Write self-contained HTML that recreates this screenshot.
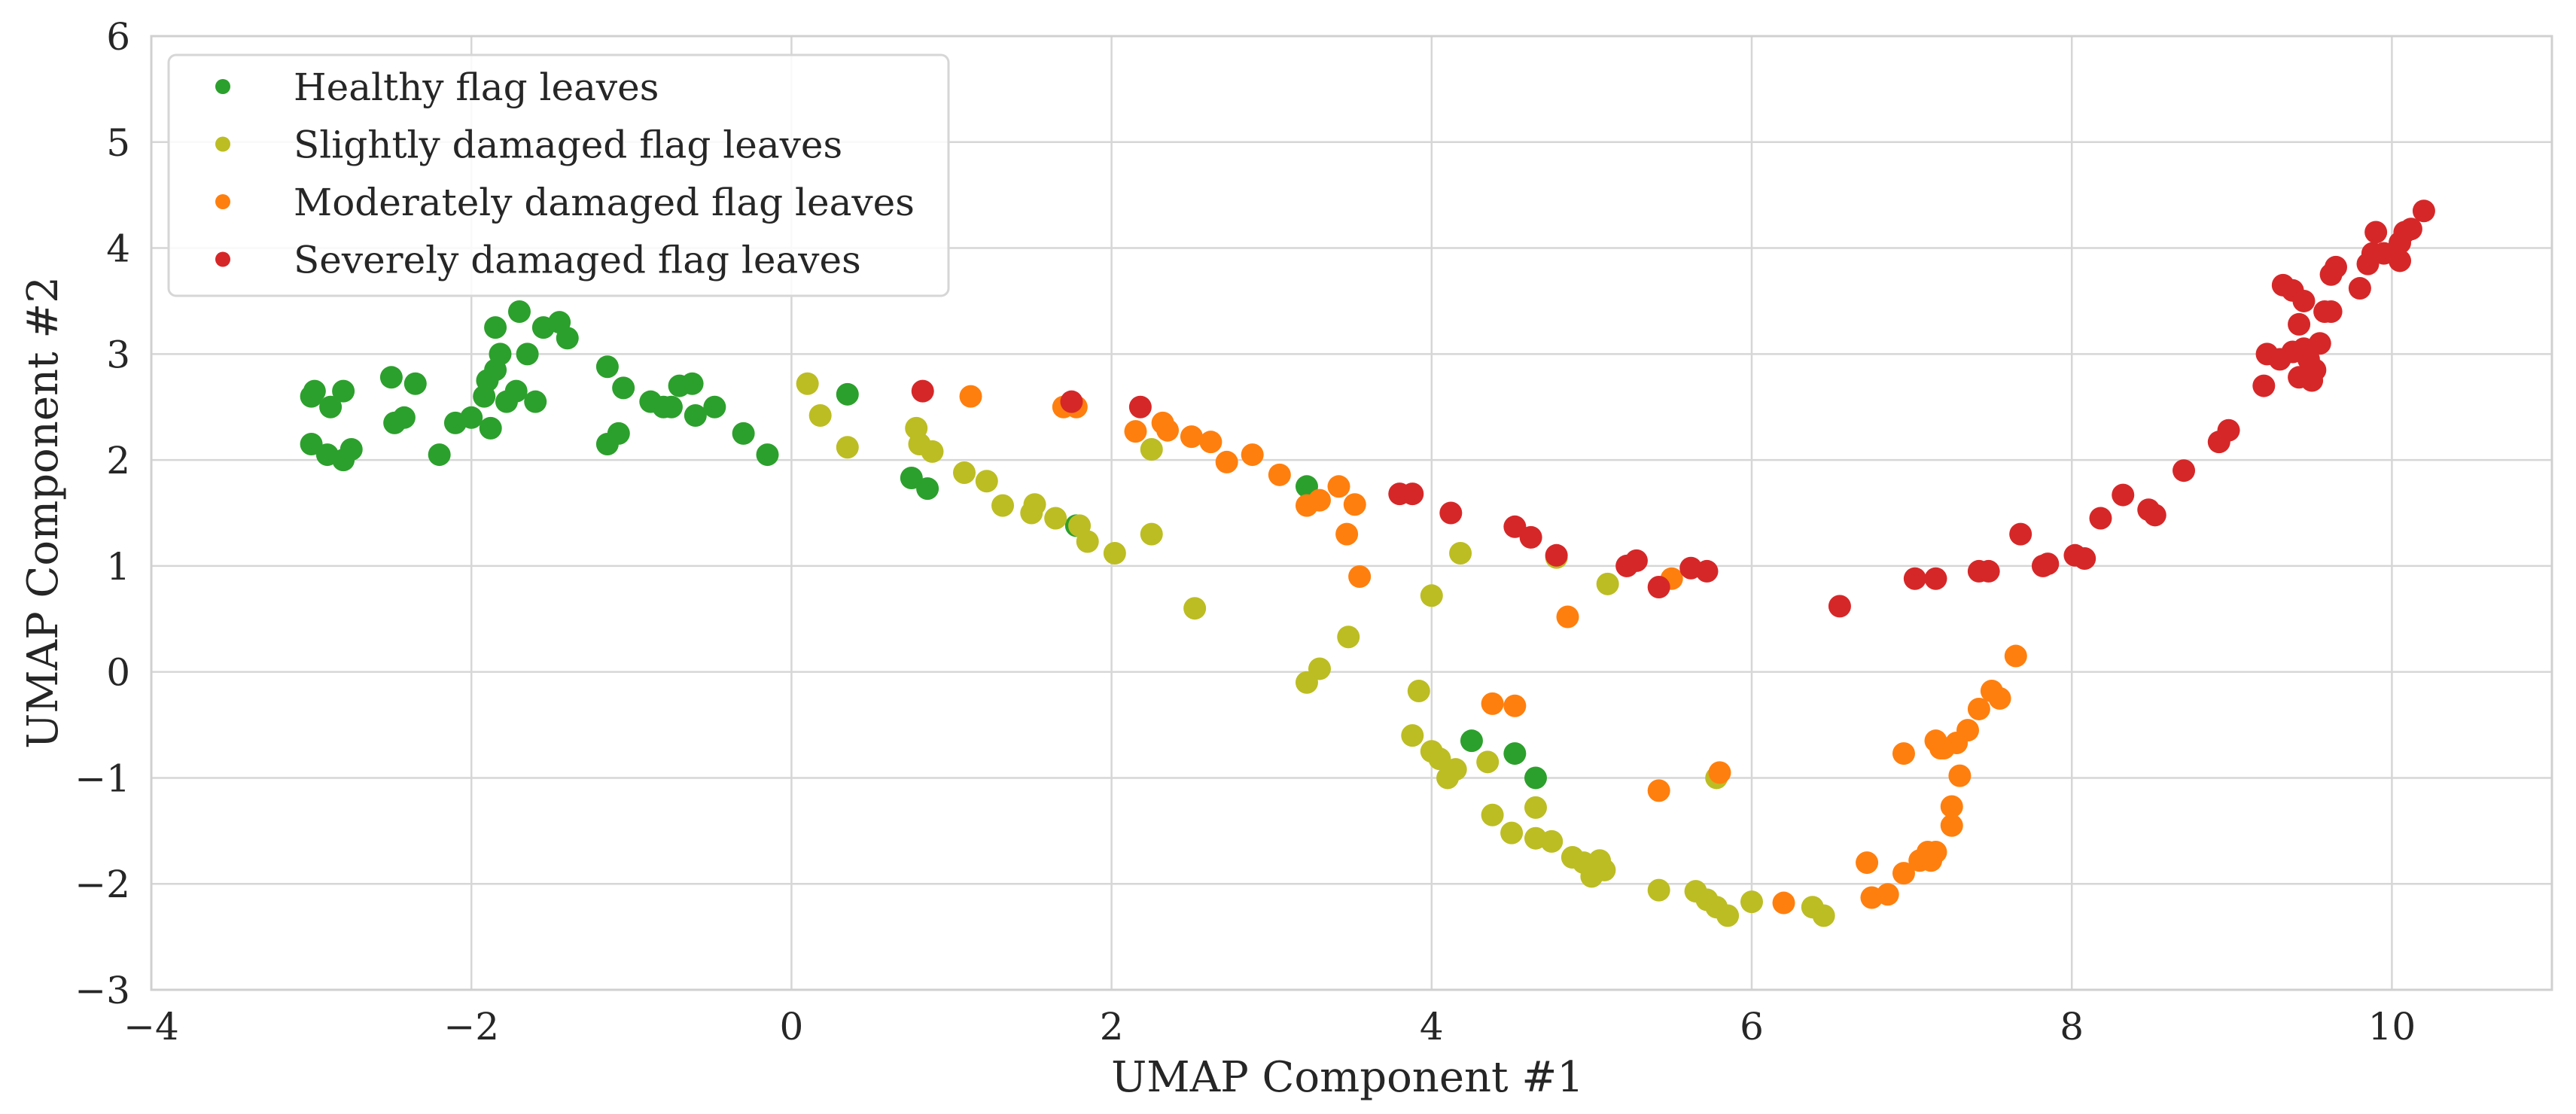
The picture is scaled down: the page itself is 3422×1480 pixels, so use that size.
<!DOCTYPE html>
<html><head><meta charset="utf-8"><style>
html,body{margin:0;padding:0;background:#fff;}
svg{display:block;font-family:"DejaVu Serif","Liberation Serif",serif;}
</style></head><body>
<svg id="chart" width="3422" height="1480" viewBox="0 0 3422 1480" xmlns="http://www.w3.org/2000/svg">
<rect width="3422" height="1480" fill="#fff"/>
<g id="grid"></g><g id="ticks"></g><g id="points"></g>
<text x="1790" y="1450" font-size="56" text-anchor="middle" fill="#262626">UMAP Component #1</text>
<text transform="translate(76,681) rotate(-90)" font-size="56" text-anchor="middle" fill="#262626">UMAP Component #2</text>
<g id="legend"></g>
</svg>
<script>
const xTicks=[-4,-2,0,2,4,6,8,10];
const yTicks=[-3,-2,-1,0,1,2,3,4,5,6];
const seriesNames=["Healthy flag leaves","Slightly damaged flag leaves","Moderately damaged flag leaves","Severely damaged flag leaves"];
const seriesColors=["#2ca02c","#bcbd22","#ff7f0e","#d62728"];
const healthyX=[-3.0,-3.0,-2.98,-2.9,-2.88,-2.8,-2.8,-2.75,-2.5,-2.48,-2.42,-2.35,-2.2,-2.1,-2.0,-1.92,-1.9,-1.88,-1.85,-1.85,-1.82,-1.78,-1.72,-1.7,-1.65,-1.6,-1.55,-1.45,-1.4,-1.15,-1.15,-1.08,-1.05,-0.88,-0.8,-0.75,-0.7,-0.62,-0.6,-0.48,-0.3,-0.15,0.35,0.75,0.85,1.78,3.22,4.25,4.52,4.65];
const healthyY=[2.15,2.6,2.65,2.05,2.5,2.65,2.0,2.1,2.78,2.35,2.4,2.72,2.05,2.35,2.4,2.6,2.75,2.3,2.85,3.25,3.0,2.55,2.65,3.4,3.0,2.55,3.25,3.3,3.15,2.88,2.15,2.25,2.68,2.55,2.5,2.5,2.7,2.72,2.42,2.5,2.25,2.05,2.62,1.83,1.73,1.38,1.75,-0.65,-0.77,-1.0];
const slightX=[0.1,0.18,0.35,0.78,0.8,0.88,1.08,1.22,1.32,1.5,1.52,1.65,1.8,1.85,2.02,2.25,2.25,2.52,3.22,3.3,3.48,3.88,3.92,4.0,4.0,4.05,4.1,4.15,4.18,4.35,4.38,4.5,4.65,4.65,4.75,4.78,4.88,4.95,5.0,5.05,5.08,5.1,5.42,5.65,5.72,5.78,5.78,5.85,6.0,6.38,6.45];
const slightY=[2.72,2.42,2.12,2.3,2.15,2.08,1.88,1.8,1.57,1.5,1.58,1.45,1.38,1.23,1.12,2.1,1.3,0.6,-0.1,0.03,0.33,-0.6,-0.18,0.72,-0.75,-0.82,-1.0,-0.92,1.12,-0.85,-1.35,-1.52,-1.28,-1.57,-1.6,1.08,-1.75,-1.8,-1.93,-1.78,-1.87,0.83,-2.06,-2.07,-2.15,-2.22,-1.0,-2.3,-2.17,-2.22,-2.3];
const moderateX=[1.12,1.7,1.78,2.15,2.32,2.35,2.5,2.62,2.72,2.88,3.05,3.22,3.3,3.42,3.47,3.52,3.55,4.38,4.52,4.85,5.42,5.5,5.8,6.2,6.72,6.75,6.85,6.95,6.95,7.05,7.1,7.12,7.15,7.15,7.18,7.2,7.25,7.25,7.28,7.3,7.35,7.42,7.5,7.55,7.65];
const moderateY=[2.6,2.5,2.5,2.27,2.35,2.28,2.22,2.17,1.98,2.05,1.86,1.57,1.62,1.75,1.3,1.58,0.9,-0.3,-0.32,0.52,-1.12,0.88,-0.95,-2.18,-1.8,-2.13,-2.1,-1.9,-0.77,-1.78,-1.7,-1.78,-1.7,-0.65,-0.72,-0.72,-1.27,-1.45,-0.67,-0.98,-0.55,-0.35,-0.18,-0.25,0.15];
const severeX=[0.82,1.75,2.18,3.8,3.88,4.12,4.52,4.62,4.78,5.22,5.28,5.42,5.62,5.72,6.55,7.02,7.15,7.42,7.48,7.68,7.82,7.85,8.02,8.08,8.18,8.32,8.48,8.52,8.7,8.92,8.98,9.2,9.22,9.3,9.32,9.38,9.38,9.42,9.42,9.45,9.45,9.48,9.5,9.52,9.55,9.58,9.62,9.62,9.65,9.8,9.85,9.88,9.9,9.95,10.05,10.05,10.08,10.12,10.2];
const severeY=[2.65,2.55,2.5,1.68,1.68,1.5,1.37,1.27,1.1,1.0,1.05,0.8,0.98,0.95,0.62,0.88,0.88,0.95,0.95,1.3,1.0,1.02,1.1,1.07,1.45,1.67,1.53,1.48,1.9,2.17,2.28,2.7,3.0,2.95,3.65,3.6,3.02,3.28,2.78,3.5,3.05,2.95,2.75,2.85,3.1,3.4,3.4,3.75,3.82,3.62,3.85,3.95,4.15,3.95,3.88,4.05,4.15,4.18,4.35];

const L=201,R=3390,T=48,B=1315,xMin=-4,xMax=11,yMin=-3,yMax=6;
const sx=v=>L+(v-xMin)/(xMax-xMin)*(R-L);
const sy=v=>B-(v-yMin)/(yMax-yMin)*(B-T);
const NS="http://www.w3.org/2000/svg";
function mk(tag,attrs,parent){const e=document.createElementNS(NS,tag);for(const k in attrs)e.setAttribute(k,attrs[k]);parent.appendChild(e);return e;}
const grid=document.getElementById('grid'),ticks=document.getElementById('ticks'),pts=document.getElementById('points'),leg=document.getElementById('legend');
xTicks.forEach(t=>{
 const l=mk('line',{x1:sx(t),x2:sx(t),y1:T,y2:B,stroke:'#d6d6d6','stroke-width':2.5},grid);
 
 
 const tx=mk('text',{x:sx(t),y:1381,'font-size':50,'text-anchor':'middle',fill:'#262626'},ticks);
 tx.textContent=t<0?'\u2212'+(-t):t;
 
 
});
yTicks.forEach(t=>{
 const l=mk('line',{x1:L,x2:R,y1:sy(t),y2:sy(t),stroke:'#d6d6d6','stroke-width':2.5},grid);
 
 
 const tx=mk('text',{x:173,y:sy(t)+18,'font-size':50,'text-anchor':'end',fill:'#262626'},ticks);
 tx.textContent=t<0?'\u2212'+(-t):t;
 
 
});
const frame=mk('rect',{x:L,y:T,width:R-L,height:B-T,fill:'none',stroke:'#d0d0d0','stroke-width':3},grid);


const series=[[healthyX,healthyY],[slightX,slightY],[moderateX,moderateY],[severeX,severeY]];
const sNames=['healthy','slightly-damaged','moderately-damaged','severely-damaged'];
series.forEach((s,i)=>{
 s[0].forEach((x,j)=>{
  const c=mk('circle',{cx:sx(x),cy:sy(s[1][j]),r:15,fill:seriesColors[i]},pts);
  
  
 });
});
const box=mk('rect',{x:224,y:73,width:1036,height:320,rx:10,fill:'#fff','fill-opacity':0.85,stroke:'#d6d6d6','stroke-width':3},leg);


seriesNames.forEach((n,i)=>{
 const y=115+i*76.5;
 const c=mk('circle',{cx:296,cy:y,r:10,fill:seriesColors[i]},leg);
 
 
 const t=mk('text',{x:390,y:y+18,'font-size':50,fill:'#262626'},leg);
 t.textContent=n;
 
 
});
</script>
</body></html>
